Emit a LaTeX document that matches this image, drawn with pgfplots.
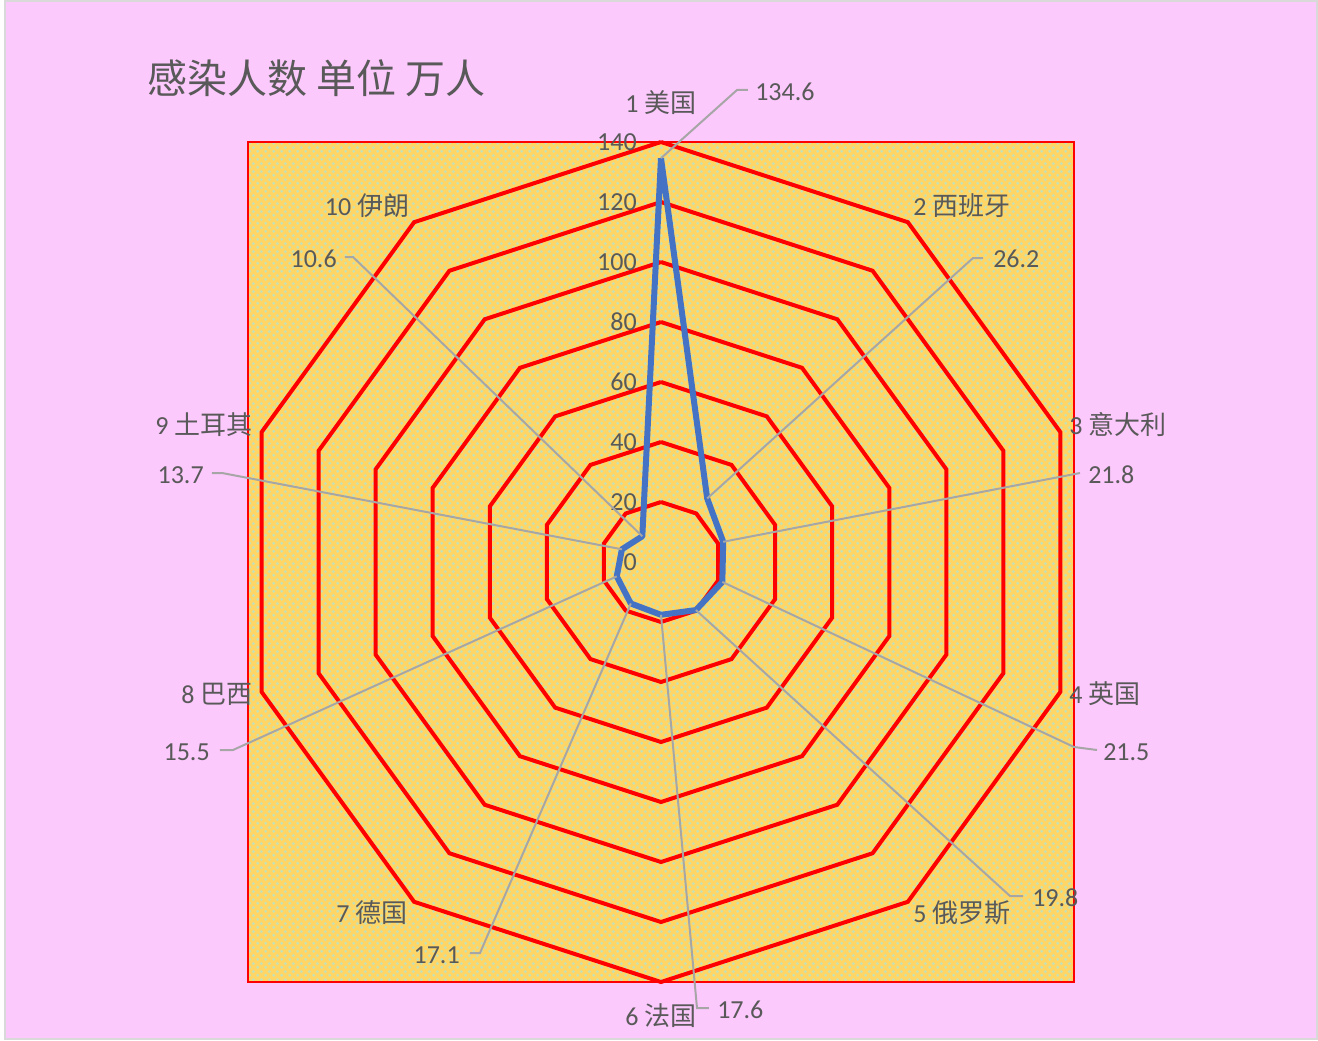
\documentclass[border=0pt]{standalone}
\usepackage{pgfplots}
\pgfplotsset{compat=1.18}
\usepgfplotslibrary{polar}
\usetikzlibrary{patterns}
\usepackage{fontspec}
\setmainfont{Carlito}
\newfontfamily\cjk{Noto Sans CJK SC}
\definecolor{pinkbg}{RGB}{252,201,252}
\definecolor{areayel}{RGB}{255,214,102}
\definecolor{areagrn}{RGB}{198,224,180}
\definecolor{txt}{RGB}{89,89,89}
\definecolor{lead}{RGB}{166,166,166}
\definecolor{xlblue}{RGB}{68,114,196}
% yellow ground with small green dots, like the Excel pattern fill
\pgfdeclarepatternformonly{xlpat}{\pgfpointorigin}{\pgfqpoint{6pt}{6pt}}{\pgfqpoint{6pt}{6pt}}{%
  \pgfpathcircle{\pgfqpoint{1.5pt}{1.5pt}}{1.4pt}%
  \pgfpathcircle{\pgfqpoint{4.5pt}{4.5pt}}{1.4pt}%
  \pgfusepath{fill}}

\begin{document}
\begin{tikzpicture}[x=0.75pt,y=0.75pt]
\useasboundingbox (-661,562) rectangle (657,-478);
\fill[white] (-661,562) rectangle (657,-478);
\filldraw[fill=pinkbg, draw=black!15, line width=1.5pt] (-656,561) rectangle (656,-477);
% plot area
\fill[areayel] (-413,420) rectangle (413,-420);
\fill[pattern=xlpat, pattern color=areagrn] (-413,420) rectangle (413,-420);
\draw[red, line width=1.5pt] (-413,420) rectangle (413,-420);

\begin{polaraxis}[at={(0,0)}, anchor=center,
  width=630pt, height=630pt, scale only axis,
  hide axis, clip=false,
  xmin=0, xmax=360, ymin=0, ymax=140]
% decagon grid
\pgfplotsinvokeforeach{20,40,60,80,100,120,140}{
  \addplot[red, line width=3pt, line join=miter, mark=none]
    coordinates {(90,#1)(54,#1)(18,#1)(-18,#1)(-54,#1)(-90,#1)(-126,#1)(-162,#1)(162,#1)(126,#1)(90,#1)};
}
% infections, 10k people
\addplot[xlblue, line width=4.5pt, line join=round, mark=none]
  coordinates {(90,134.6)(54,26.2)(18,21.8)(-18,21.5)(-54,19.8)(-90,17.6)(-126,17.1)(-162,15.5)(162,13.7)(126,10.6)(90,134.6)};
\coordinate (p1) at (axis cs:90,134.6);
\coordinate (p2) at (axis cs:54,26.2);
\coordinate (p3) at (axis cs:18,21.8);
\coordinate (p4) at (axis cs:-18,21.5);
\coordinate (p5) at (axis cs:-54,19.8);
\coordinate (p6) at (axis cs:-90,17.6);
\coordinate (p7) at (axis cs:-126,17.1);
\coordinate (p8) at (axis cs:-162,15.5);
\coordinate (p9) at (axis cs:162,13.7);
\coordinate (p10) at (axis cs:126,10.6);
\end{polaraxis}

\begin{scope}[every node/.style={text=txt, inner sep=0pt, font=\fontsize{19.5}{23}\selectfont}]
% radial tick labels
\foreach \v in {0,20,...,140}
  \node[anchor=east] at (-24,3*\v) {\v};
% category labels
\node at (0,459) {1 {\cjk 美国}};
\node at (301,356) {2 {\cjk 西班牙}};
\node at (457,137) {3 {\cjk 意大利}};
\node at (444,-132) {4 {\cjk 英国}};
\node at (301,-351) {5 {\cjk 俄罗斯}};
\node at (0,-454) {6 {\cjk 法国}};
\node at (-289,-351) {7 {\cjk 德国}};
\node at (-444,-132) {8 {\cjk 巴西}};
\node at (-457,137) {9 {\cjk 土耳其}};
\node at (-294,356) {10 {\cjk 伊朗}};
% data labels with leader lines
\draw[lead, line width=1.5pt] (p1) -- (76,472) -- (87,472);
\node[anchor=west] at (94,470) {134.6};
\draw[lead, line width=1.5pt] (p2) -- (312,304) -- (322,304);
\node[anchor=west] at (332,303) {26.2};
\draw[lead, line width=1.5pt] (p3) -- (419,89);
\node[anchor=west] at (427,87) {21.8};
\draw[lead, line width=1.5pt] (p4) -- (413,-185) -- (436,-188);
\node[anchor=west] at (442,-190) {21.5};
\draw[lead, line width=1.5pt] (p5) -- (349,-334) -- (362,-334);
\node[anchor=west] at (371,-336) {19.8};
\draw[lead, line width=1.5pt] (p6) -- (36,-446) -- (48,-446);
\node[anchor=west] at (56,-448) {17.6};
\draw[lead, line width=1.5pt] (p7) -- (-181,-391) -- (-191,-391);
\node[anchor=east] at (-201,-393) {17.1};
\draw[lead, line width=1.5pt] (p8) -- (-428,-188) -- (-441,-188);
\node[anchor=east] at (-451,-190) {15.5};
\draw[lead, line width=1.5pt] (p9) -- (-439,89) -- (-449,89);
\node[anchor=east] at (-457,87) {13.7};
\draw[lead, line width=1.5pt] (p10) -- (-308,305) -- (-316,305);
\node[anchor=east] at (-324,303) {10.6};
% title
\node[anchor=west, font=\cjk\fontsize{30}{35}\selectfont] at (-514,484) {感染人数 单位 万人};
\end{scope}
\end{tikzpicture}
\end{document}
